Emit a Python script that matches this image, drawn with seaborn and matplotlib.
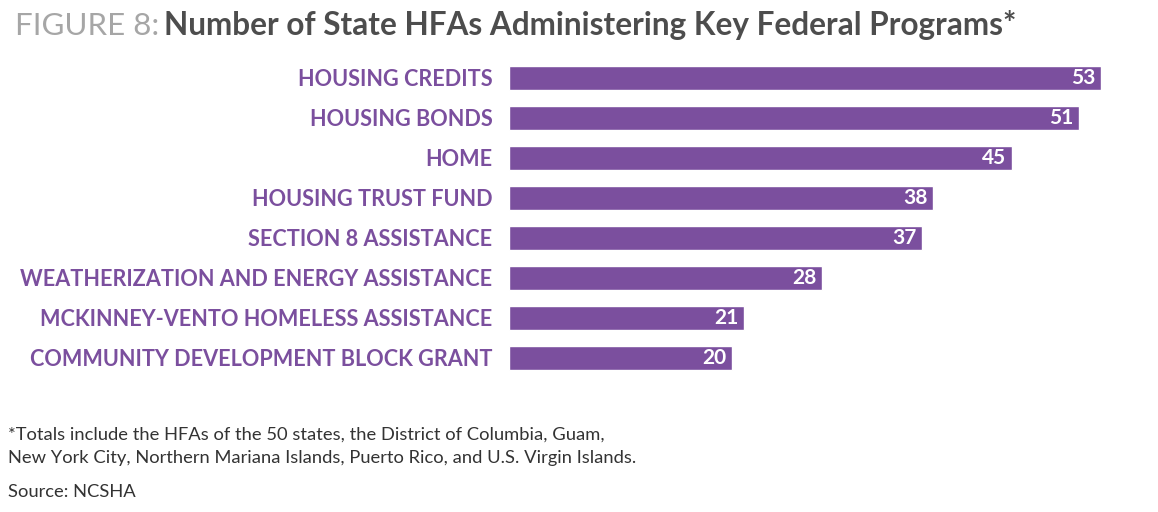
import matplotlib
matplotlib.use("Agg")
import matplotlib.pyplot as plt
import seaborn as sns
import pandas as pd

programs = [
    "HOUSING CREDITS",
    "HOUSING BONDS",
    "HOME",
    "HOUSING TRUST FUND",
    "SECTION 8 ASSISTANCE",
    "WEATHERIZATION AND ENERGY ASSISTANCE",
    "MCKINNEY-VENTO HOMELESS ASSISTANCE",
    "COMMUNITY DEVELOPMENT BLOCK GRANT",
]
counts = [53, 51, 45, 38, 37, 28, 21, 20]

purple = "#7b4f9e"
dark = "#4d4d4d"

sns.set_theme(style="white")
plt.rcParams["font.family"] = ["Lato", "DejaVu Sans"]

df = pd.DataFrame({"program": programs, "count": counts})

fig = plt.figure(figsize=(11.58, 5.12), dpi=100)
ax = fig.add_axes([509 / 1158, 1 - 378 / 512, (1101 - 509) / 1158, (378 - 58) / 512])
sns.barplot(data=df, x="count", y="program", color=purple, saturation=1,
            width=0.62, ax=ax)
ax.set_xlim(0, 53)
ax.set_ylim(7.5, -0.5)
ax.set_xlabel("")
ax.set_ylabel("")
ax.set_xticks([])
sns.despine(ax=ax, left=True, bottom=True)
ax.tick_params(axis="y", length=0, pad=12)
for lab in ax.get_yticklabels():
    lab.set_color(purple)
    lab.set_fontweight("bold")
    lab.set_fontsize(15.6)

# value labels inside the bar ends
for i, v in enumerate(counts):
    ax.annotate(str(v), (v, i), xytext=(-4, 0), textcoords="offset points",
                ha="right", va="center", color="white", fontsize=15,
                fontweight="bold")

# title in two pieces
t1 = fig.text(15 / 1158, 1 - 35 / 512, "FIGURE 8:", fontsize=22.5, color="#a6a6a6",
              fontweight="normal", va="baseline")
fig.canvas.draw()
bb = t1.get_window_extent()
fig.text(bb.x1 / 1158 + 5 / 1158, 1 - 35 / 512,
         "Number of State HFAs Administering Key Federal Programs*",
         fontsize=22.7, color=dark, fontweight="bold", va="baseline")

fig.text(8 / 1158, 1 - 440 / 512,
         "*Totals include the HFAs of the 50 states, the District of Columbia, Guam,",
         fontsize=13.2, color="#333333", va="baseline")
fig.text(8 / 1158, 1 - 463 / 512,
         "New York City, Northern Mariana Islands, Puerto Rico, and U.S. Virgin Islands.",
         fontsize=13.2, color="#333333", va="baseline")
fig.text(8 / 1158, 1 - 497 / 512, "Source: NCSHA",
         fontsize=13.2, color="#333333", va="baseline")

fig.savefig("out.png", dpi=100)
